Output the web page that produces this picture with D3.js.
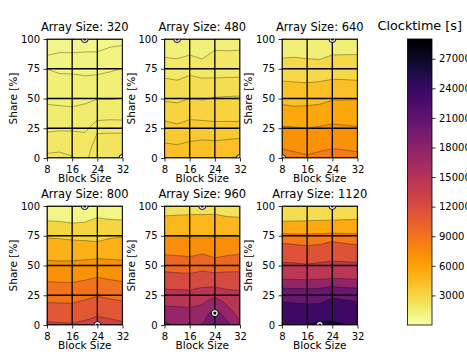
<!DOCTYPE html>
<html>
<head>
<meta charset="utf-8">
<script src="https://cdn.jsdelivr.net/npm/d3@7"></script>
<style>
  body { margin: 0; background: #fff; }
  svg { display: block; font-family: "DejaVu Sans", sans-serif; }
</style>
</head>
<body>
<div id="view"></div>
<script>
// grid axes of every panel
var blocks = [8, 12, 16, 20, 24, 28, 32];
var shares = [100, 90, 80, 70, 60, 50, 40, 30, 20, 10, 0];
var arraySizes = [320, 480, 640, 800, 960, 1120];
var xTicks = [8, 16, 24, 32];
var yTicks = [0, 25, 50, 75, 100];
var cbTicks = [3000, 6000, 9000, 12000, 15000, 18000, 21000, 24000, 27000];
var cbMin = 0, cbMax = 29000;

// contour levels per array size
var levels320 = [750, 1000, 1250, 1500, 1750, 2000, 2250, 2500];
var levels480 = [1000, 1600, 2200, 2800, 3400, 4000, 4600, 5200];
var levels640 = [700, 2100, 3500, 4900, 6300, 7700, 9100];
var levels800 = [0, 2000, 4000, 6000, 8000, 10000, 12000, 14000];
var levels960 = [1000, 3500, 6000, 8500, 11000, 13500, 16000, 18500, 21000];
var levels1120 = [1000, 4000, 7000, 10000, 13000, 16000, 19000, 22000, 25000, 28000];

// clocktime [s], rows = shares (100 -> 0), columns = blocks (8 -> 32)
var clock320 = [
  [860, 880, 870, 840, 880, 910, 930],
  [940, 990, 985, 990, 990, 1040, 1060],
  [1100, 1060, 1080, 1100, 1110, 1150, 1200],
  [1380, 1270, 1260, 1240, 1250, 1280, 1310],
  [1400, 1350, 1340, 1350, 1360, 1390, 1400],
  [1460, 1440, 1430, 1450, 1495, 1490, 1505],
  [1540, 1540, 1530, 1560, 1580, 1600, 1620],
  [1650, 1650, 1640, 1630, 1780, 1790, 1780],
  [1770, 1790, 1790, 1770, 2010, 2020, 2020],
  [1920, 1990, 1880, 1870, 2100, 2150, 2150],
  [2050, 2010, 2020, 1940, 2150, 2200, 2260]
];
var clock480 = [
  [1060, 1005, 1128, 1030, 1225, 1250, 1278],
  [1410, 1372, 1478, 1355, 1618, 1605, 1620],
  [1760, 1717, 1829, 1716, 1844, 1858, 1872],
  [2112, 2050, 2182, 2103, 2106, 2115, 2124],
  [2423, 2369, 2491, 2437, 2458, 2479, 2500],
  [2720, 2677, 2797, 2753, 2843, 2863, 2880],
  [3075, 3007, 3141, 3100, 3129, 3139, 3147],
  [3444, 3352, 3478, 3455, 3419, 3420, 3422],
  [3758, 3693, 3789, 3818, 3789, 3820, 3867],
  [4092, 4040, 4128, 4200, 4172, 4220, 4245],
  [4490, 4440, 4528, 4580, 4570, 4560, 4680]
];
var clock640 = [
  [1250, 1220, 1280, 1200, 1050, 1100, 1120],
  [1750, 1770, 1751, 1700, 1858, 1887, 1904],
  [2333, 2380, 2289, 2260, 2556, 2558, 2551],
  [3111, 3080, 3014, 3060, 3207, 3186, 3151],
  [3841, 3767, 3736, 3823, 3958, 3938, 3895],
  [4524, 4433, 4450, 4541, 4792, 4813, 4834],
  [5258, 5155, 5189, 5289, 5506, 5486, 5466],
  [6053, 6003, 5972, 6067, 6202, 6137, 6075],
  [6793, 6748, 6648, 6756, 6890, 6812, 6720],
  [7507, 7438, 7249, 7407, 7576, 7495, 7387],
  [8300, 8000, 7850, 8058, 8150, 8120, 8053]
];
var clock800 = [
  [600, 560, 620, 450, 700, 680, 650],
  [1660, 1589, 1483, 1557, 2030, 1828, 1748],
  [3106, 2960, 2667, 2800, 2985, 3097, 3262],
  [4439, 4350, 4222, 4125, 4010, 4333, 4512],
  [5415, 5350, 5333, 5375, 5429, 5444, 5442],
  [6455, 6400, 6435, 6571, 6750, 6588, 6455],
  [7591, 7543, 7522, 7714, 8010, 7765, 7591],
  [8727, 8686, 8644, 8909, 9282, 9010, 8790],
  [9864, 9829, 9793, 10114, 10506, 10235, 10023],
  [11100, 11030, 10976, 11257, 11655, 11412, 11172],
  [12350, 12250, 12180, 12455, 12910, 12650, 12350]
];
var clock960 = [
  [1800, 1750, 1700, 1550, 1650, 1800, 2000],
  [3857, 4012, 4178, 4261, 4319, 3708, 3581],
  [5127, 5037, 4941, 4913, 4894, 5107, 5194],
  [6833, 6766, 6691, 6817, 6691, 6735, 6768],
  [8321, 8211, 8072, 8451, 8072, 8206, 8402],
  [10071, 9929, 9778, 10150, 9292, 10038, 10128],
  [11811, 11699, 11607, 11940, 12076, 11833, 11779],
  [13520, 13448, 13393, 13789, 13847, 13480, 13403],
  [15286, 15208, 15110, 15490, 16969, 15300, 14358],
  [17136, 16935, 16816, 17225, 19600, 17000, 15270],
  [19000, 18200, 17900, 18550, 19200, 19200, 16300]
];
var clock1120 = [
  [1800, 1700, 1650, 1600, 1450, 1550, 1600],
  [3371, 3404, 3458, 3520, 3575, 3680, 3743],
  [5636, 5696, 5750, 5800, 5846, 5821, 5784],
  [9727, 9500, 9308, 9500, 10020, 9700, 9400],
  [11676, 11588, 11457, 11636, 11818, 11727, 11636],
  [13484, 13387, 13200, 13484, 13677, 13581, 13484],
  [15419, 15323, 15200, 15419, 15613, 15516, 15419],
  [19378, 19250, 19240, 19333, 20047, 19600, 19391],
  [21899, 21750, 21640, 21556, 22647, 22286, 21950],
  [23582, 23421, 23417, 23600, 24118, 23714, 23500],
  [25230, 24900, 25050, 25700, 25400, 25100, 24800]
];

var allLevels = [levels320, levels480, levels640, levels800, levels960, levels1120];
var allClock = [clock320, clock480, clock640, clock800, clock960, clock1120];

var colX = [47, 164.5, 282], rowY = [39, 206];
var pw = 75.5, ph = 119;

var color = d3.scaleSequential(d3.interpolateInferno).domain([cbMax, cbMin]);

var svg = d3.select("#view").append("svg")
	.attr("width", 467)
	.attr("height", 354);

// where does d3.contours put grid index 0 ?
var probe = d3.contours().size([2, 1]).thresholds([0.5])([0, 1])[0];
var probeX = [];
probe.coordinates.forEach(function(poly){ poly.forEach(function(ring){ ring.forEach(function(p){ probeX.push(p[0]); }); }); });
var off = d3.min(probeX) - 0.5;

function styleAxis(a){
	a.select(".domain").remove();
	a.selectAll("line").attr("stroke", "#000").attr("stroke-width", 0.8);
	a.selectAll("text").attr("fill", "#000").style("font-size", "10px").style("font-family", "DejaVu Sans");
}

arraySizes.forEach(function(size, k){
	var levels = allLevels[k], grid = allClock[k];
	var px = colX[k % 3], py = rowY[Math.floor(k / 3)];
	var x = d3.scaleLinear().domain([8, 32]).range([0, pw]);
	var y = d3.scaleLinear().domain([0, 100]).range([ph, 0]);
	var gx = d3.scaleLinear().domain([off, off + blocks.length - 1]).range([x(blocks[0]), x(blocks[blocks.length - 1])]);
	var gy = d3.scaleLinear().domain([off, off + shares.length - 1]).range([y(shares[0]), y(shares[shares.length - 1])]);
	var path = d3.geoPath(d3.geoTransform({point: function(a, b){ this.stream.point(gx(a), gy(b)); }}));

	var g = svg.append("g").attr("transform", "translate(" + px + "," + py + ")");
	svg.append("clipPath").attr("id", "clip" + k)
		.append("rect").attr("width", pw).attr("height", ph);

	var flat = [].concat.apply([], grid);
	var bands = d3.contours().size([blocks.length, shares.length])
		.thresholds(levels.slice(0, -1))(flat);

	var gc = g.append("g").attr("clip-path", "url(#clip" + k + ")");
	gc.append("rect").attr("width", pw).attr("height", ph)
		.attr("fill", color((levels[0] + levels[1]) / 2));
	gc.selectAll("path.band").data(bands).join("path")
		.attr("class", "band")
		.attr("d", path)
		.attr("fill-rule", "evenodd")
		.attr("fill", function(d, i){ return color((levels[i] + levels[i + 1]) / 2); });
	gc.selectAll("path.iso").data(bands.slice(1)).join("path")
		.attr("class", "iso")
		.attr("d", path)
		.attr("fill", "none")
		.attr("stroke", "#000")
		.attr("stroke-opacity", 0.45)
		.attr("stroke-width", 0.7);

	// grid
	gc.selectAll("line.vx").data(xTicks).join("line")
		.attr("x1", function(d){ return x(d); }).attr("x2", function(d){ return x(d); })
		.attr("y1", 0).attr("y2", ph)
		.attr("stroke", "#000").attr("stroke-width", 1.3);
	gc.selectAll("line.hy").data(yTicks).join("line")
		.attr("y1", function(d){ return y(d); }).attr("y2", function(d){ return y(d); })
		.attr("x1", 0).attr("x2", pw)
		.attr("stroke", "#000").attr("stroke-width", 1.3);

	// min and max markers
	var iMin = d3.minIndex(flat), iMax = d3.maxIndex(flat);
	[iMin, iMax].forEach(function(i){
		var cx = x(blocks[i % blocks.length]), cy = y(shares[Math.floor(i / blocks.length)]);
		gc.append("circle").attr("cx", cx).attr("cy", cy).attr("r", 3.5)
			.attr("fill", "#fff").attr("stroke", "#000").attr("stroke-width", 1);
		gc.append("circle").attr("cx", cx).attr("cy", cy).attr("r", 1.6).attr("fill", "#000");
	});

	g.append("rect").attr("width", pw).attr("height", ph)
		.attr("fill", "none").attr("stroke", "#000").attr("stroke-width", 0.8);

	g.append("g").attr("transform", "translate(0," + ph + ")")
		.call(d3.axisBottom(x).tickValues(xTicks).tickSize(3.5).tickPadding(4.5).tickSizeOuter(0))
		.call(styleAxis);
	g.append("g")
		.call(d3.axisLeft(y).tickValues(yTicks).tickSize(3.5).tickPadding(3.5).tickSizeOuter(0))
		.call(styleAxis);

	g.append("text").attr("x", pw / 2).attr("y", -8)
		.attr("text-anchor", "middle").style("font-size", "11.5px")
		.text("Array Size: " + size);
	g.append("text").attr("x", pw / 2).attr("y", ph + 24)
		.attr("text-anchor", "middle").style("font-size", "10.5px")
		.text("Block Size");
	g.append("text").attr("transform", "translate(-30," + (ph / 2) + ") rotate(-90)")
		.attr("text-anchor", "middle").style("font-size", "10.5px")
		.text("Share [%]");
});

// colorbar
var cbx = 407.5, cbw = 24.5;
var cb = d3.scaleLinear().domain([cbMin, cbMax]).range([325, 39]);
var grad = svg.append("defs").append("linearGradient").attr("id", "cbgrad")
	.attr("x1", 0).attr("y1", 1).attr("x2", 0).attr("y2", 0);
grad.selectAll("stop").data(d3.range(0, 41)).join("stop")
	.attr("offset", function(d){ return d / 40; })
	.attr("stop-color", function(d){ return color(cbMin + (cbMax - cbMin) * d / 40); });
svg.append("rect").attr("x", cbx).attr("y", cb(cbMax))
	.attr("width", cbw).attr("height", cb(cbMin) - cb(cbMax))
	.attr("fill", "url(#cbgrad)").attr("stroke", "#000").attr("stroke-width", 0.8);
svg.append("g").attr("transform", "translate(" + (cbx + cbw) + ",0)")
	.call(d3.axisRight(cb).tickValues(cbTicks).tickSize(3.5).tickPadding(3.5).tickFormat(d3.format("d")))
	.call(styleAxis);
svg.append("text").attr("x", cbx + cbw / 2).attr("y", 29.5)
	.attr("text-anchor", "middle").style("font-size", "12.8px")
	.text("Clocktime [s]");
</script>
</body>
</html>
